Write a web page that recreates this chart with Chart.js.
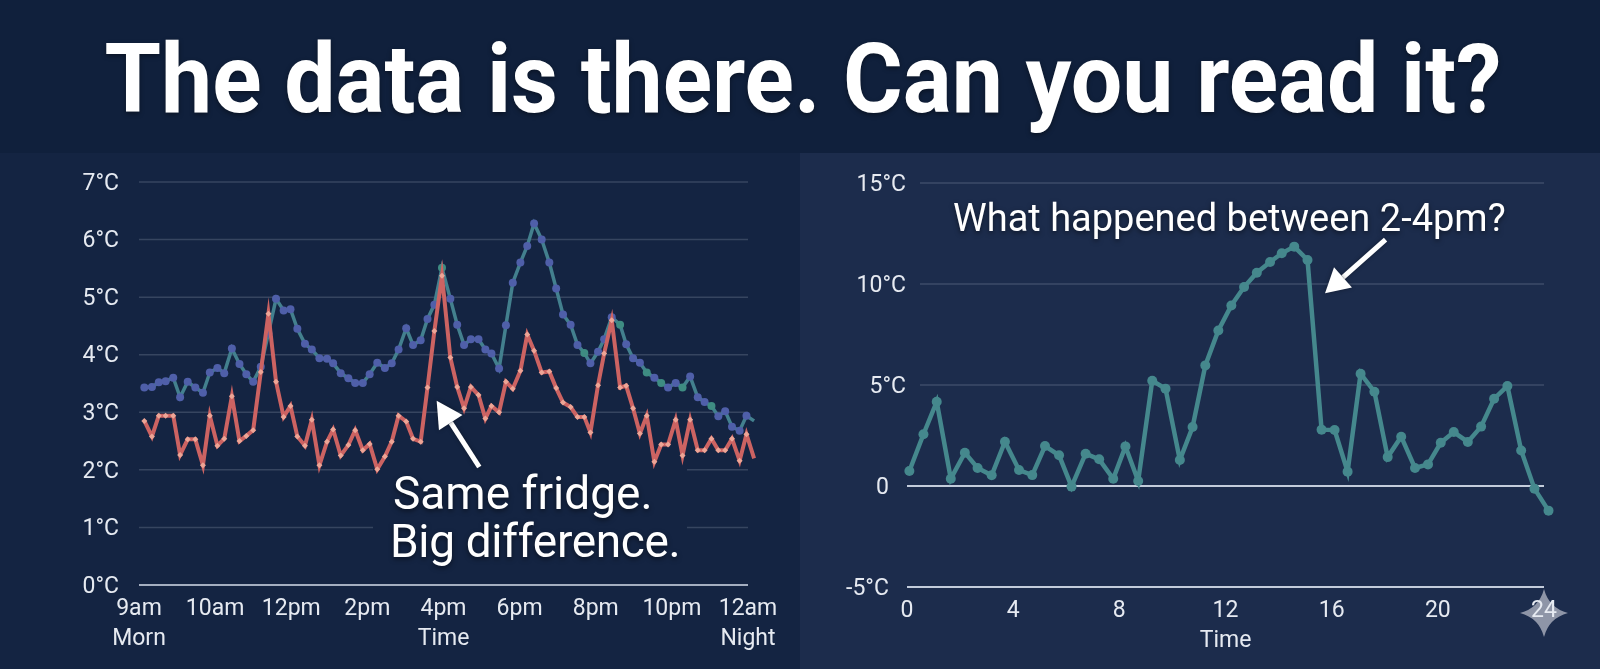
<!DOCTYPE html>
<html>
<head>
<meta charset="utf-8">
<title>Fridge temperatures</title>
<script src="https://cdn.jsdelivr.net/npm/chart.js@4"></script>
<style>
  html, body { margin: 0; padding: 0; background: #142442; }
  body { position: relative; width: 1600px; height: 669px; overflow: hidden; font-family: Roboto, sans-serif; }
  #banner { position: absolute; left: 0; top: 0; width: 1600px; height: 153px; background: #10203c; }
  #banner h1 { margin: 0; width: 1606px; text-align: center; color: #fff; font: 700 96px/158px Roboto, sans-serif; transform: scaleX(0.951); transform-origin: 803px 0; text-shadow: 0 2px 5px rgba(0,0,0,.4); white-space: nowrap; }
  #leftPanel, #rightPanel { position: absolute; top: 153px; width: 800px; height: 516px; }
  #leftPanel { left: 0; background: #142442; }
  #rightPanel { left: 800px; background: #1c2c4c; }
  .note { position: absolute; color: #fff; white-space: nowrap; text-shadow: 0 2px 5px rgba(0,0,0,.5); }
</style>
</head>
<body>
<div id="banner"><h1>The data is there. Can you read it?</h1></div>
<div id="leftPanel"><canvas id="fridgeChart" width="800" height="516"></canvas></div>
<div id="rightPanel"><canvas id="freezerChart" width="800" height="516"></canvas></div>
<div class="note" style="left:393px;top:467px;font-size:46px;line-height:52px">Same fridge.</div>
<div class="note" style="left:390px;top:515px;font-size:46px;line-height:52px;letter-spacing:-0.35px">Big difference.</div>
<div class="note" style="left:953px;top:195px;font-size:38px;line-height:46px">What happened between 2-4pm?</div>
<script>
const fridgeTickLabels = ["9am", "10am", "12pm", "2pm", "4pm", "6pm", "8pm", "10pm", "12am"];
const fridgeSubLabels = { 0: "Morn", 4: "Time", 8: "Night" };

// sample positions along the axis, 1 unit = one labelled tick
const fridgeTimes = [
  0.07, 0.17, 0.26, 0.35, 0.45, 0.54, 0.64, 0.74, 0.84, 0.93,
  1.03, 1.12, 1.22, 1.32, 1.41, 1.50, 1.60, 1.70, 1.80, 1.90,
  1.99, 2.08, 2.18, 2.27, 2.37, 2.47, 2.55, 2.65, 2.75, 2.84,
  2.94, 3.03, 3.13, 3.23, 3.32, 3.41, 3.51, 3.60, 3.70, 3.79,
  3.88, 3.98, 4.09, 4.18, 4.27, 4.36, 4.46, 4.55, 4.63, 4.73,
  4.82, 4.91, 5.01, 5.10, 5.19, 5.29, 5.39, 5.48, 5.57, 5.67,
  5.76, 5.85, 5.93, 6.03, 6.11, 6.21, 6.32, 6.40, 6.49, 6.58,
  6.67, 6.77, 6.86, 6.95, 7.05, 7.14, 7.24, 7.34, 7.43, 7.52,
  7.61, 7.70, 7.79, 7.89, 7.98, 8.08
];

const sensorA = [
  3.43, 3.44, 3.52, 3.54, 3.60, 3.26, 3.53, 3.43, 3.34, 3.69,
  3.77, 3.68, 4.11, 3.84, 3.66, 3.53, 3.79, 4.37, 4.97, 4.77,
  4.79, 4.45, 4.19, 4.09, 3.94, 3.93, 3.85, 3.68, 3.59, 3.51,
  3.51, 3.66, 3.86, 3.77, 3.85, 4.09, 4.46, 4.17, 4.25, 4.62,
  4.87, 5.51, 4.97, 4.52, 4.17, 4.27, 4.27, 4.09, 4.02, 3.76,
  4.51, 5.25, 5.60, 5.89, 6.28, 6.00, 5.60, 5.15, 4.70, 4.52,
  4.17, 4.03, 3.85, 4.05, 4.27, 4.65, 4.52, 4.18, 3.94, 3.86,
  3.69, 3.60, 3.51, 3.43, 3.51, 3.43, 3.62, 3.26, 3.18, 3.11,
  2.93, 3.02, 2.75, 2.68, 2.94, 2.85
];
const sensorATealPoints = [41, 61, 66, 70, 72, 75, 79, 85];

const sensorB = [
  2.85, 2.58, 2.94, 2.94, 2.94, 2.26, 2.53, 2.53, 2.08, 2.94,
  2.42, 2.54, 3.28, 2.50, 2.59, 2.69, 3.70, 4.71, 3.53, 2.92,
  3.11, 2.58, 2.42, 2.87, 2.08, 2.49, 2.70, 2.25, 2.43, 2.69,
  2.34, 2.45, 2.01, 2.23, 2.49, 2.94, 2.84, 2.54, 2.49, 3.43,
  4.41, 5.37, 3.95, 3.44, 3.07, 3.44, 3.30, 2.89, 3.11, 3.00,
  3.53, 3.41, 3.72, 4.35, 4.07, 3.69, 3.71, 3.42, 3.17, 3.09,
  2.92, 2.92, 2.65, 3.47, 4.02, 4.60, 3.43, 3.46, 3.07, 2.63,
  2.94, 2.14, 2.44, 2.44, 2.87, 2.25, 2.87, 2.34, 2.34, 2.54,
  2.34, 2.34, 2.54, 2.16, 2.62, 2.20
];

const dayHours = [
  0.09, 0.62, 1.12, 1.65, 2.18, 2.66, 3.19, 3.69, 4.22, 4.72,
  5.20, 5.73, 6.20, 6.73, 7.24, 7.77, 8.23, 8.71, 9.24, 9.74,
  10.28, 10.76, 11.24, 11.73, 12.22, 12.70, 13.18, 13.68, 14.12, 14.59,
  15.09, 15.62, 16.11, 16.60, 17.09, 17.61, 18.11, 18.62, 19.14, 19.63,
  20.11, 20.60, 21.13, 21.63, 22.12, 22.62, 23.14, 23.64, 24.17
];
const dayTemps = [
  0.74, 2.56, 4.17, 0.36, 1.65, 0.89, 0.53, 2.19, 0.79, 0.54,
  1.98, 1.52, -0.03, 1.60, 1.32, 0.36, 1.96, 0.25, 5.21, 4.82,
  1.29, 2.92, 5.97, 7.70, 8.94, 9.85, 10.56, 11.09, 11.52, 11.85,
  11.19, 2.79, 2.77, 0.71, 5.56, 4.67, 1.43, 2.44, 0.89, 1.07,
  2.14, 2.67, 2.18, 2.94, 4.32, 4.95, 1.76, -0.13, -1.22
];

const TICK_COLOR = "#e6eaf1";
const TICK_FONT = { family: "Roboto", size: 23, lineHeight: 1.3 };

function toPoints(xs, ys) {
  return ys.map((y, i) => ({ x: xs[i], y: y }));
}

// fixed axis band, and no extra room reserved for the outer labels
function fixBand(scale, prop, size) {
  scale[prop] = size;
  scale.paddingTop = scale.paddingBottom = scale.paddingLeft = scale.paddingRight = 0;
}

// horizontal rules, with room left for the text sitting over them
const gridPlugin = {
  id: "ruledGrid",
  beforeDatasetsDraw(chart, args, opts) {
    const { ctx, scales: { y }, chartArea } = chart;
    ctx.save();
    y.ticks.forEach(t => {
      const heavy = opts.heavy.includes(t.value);
      const py = y.getPixelForValue(t.value);
      const x0 = chartArea.left + (heavy ? 0 : opts.inset);
      ctx.strokeStyle = heavy ? opts.heavyColor : "rgba(200,212,230,0.19)";
      ctx.lineWidth = heavy ? 2 : 1.5;
      ctx.beginPath();
      const gap = opts.gap && opts.gap.values.includes(t.value) ? opts.gap : null;
      if (gap) {
        ctx.moveTo(x0, py);
        ctx.lineTo(gap.from, py);
        ctx.moveTo(gap.to, py);
      } else {
        ctx.moveTo(x0, py);
      }
      ctx.lineTo(chartArea.right, py);
      ctx.stroke();
    });
    ctx.restore();
  }
};

// drop the y labels a touch so they sit level with their rules
const labelNudgePlugin = {
  id: "labelNudge",
  afterUpdate(chart) {
    chart.scales.y.getLabelItems().forEach(item => { item.options.translation[1] += 2; });
  }
};

// white callout arrow, ends given in data values
const arrowPlugin = {
  id: "calloutArrow",
  afterDatasetsDraw(chart, args, opts) {
    const { ctx, scales: { x, y } } = chart;
    const tipX = x.getPixelForValue(opts.tip[0]), tipY = y.getPixelForValue(opts.tip[1]);
    const tailX = x.getPixelForValue(opts.tail[0]), tailY = y.getPixelForValue(opts.tail[1]);
    const a = Math.atan2(tipY - tailY, tipX - tailX);
    const bx = tipX - Math.cos(a) * opts.headLength, by = tipY - Math.sin(a) * opts.headLength;
    const nx = -Math.sin(a) * opts.headHalf, ny = Math.cos(a) * opts.headHalf;
    ctx.save();
    ctx.shadowColor = "rgba(0,0,0,0.35)";
    ctx.shadowBlur = 4;
    ctx.strokeStyle = "#fff";
    ctx.fillStyle = "#fff";
    ctx.lineWidth = 5;
    ctx.beginPath();
    ctx.moveTo(tailX, tailY);
    ctx.lineTo(bx, by);
    ctx.stroke();
    ctx.beginPath();
    ctx.moveTo(tipX, tipY);
    ctx.lineTo(bx + nx, by + ny);
    ctx.lineTo(bx - nx, by - ny);
    ctx.closePath();
    ctx.fill();
    ctx.restore();
  }
};

// four point star in the corner, under the last tick label
const starPlugin = {
  id: "cornerStar",
  beforeDraw(chart) {
    const { ctx, scales: { x } } = chart;
    const cx = x.getPixelForValue(24), cy = 460, r = 24, k = 5;
    ctx.save();
    ctx.fillStyle = "#8e95a7";
    ctx.beginPath();
    ctx.moveTo(cx, cy - r);
    ctx.quadraticCurveTo(cx + k, cy - k, cx + r, cy);
    ctx.quadraticCurveTo(cx + k, cy + k, cx, cy + r);
    ctx.quadraticCurveTo(cx - k, cy + k, cx - r, cy);
    ctx.quadraticCurveTo(cx - k, cy - k, cx, cy - r);
    ctx.fill();
    ctx.restore();
  }
};

new Chart(document.getElementById("fridgeChart"), {
  type: "line",
  plugins: [gridPlugin, labelNudgePlugin, arrowPlugin],
  data: {
    datasets: [
      {
        label: "Sensor B",
        data: toPoints(fridgeTimes, sensorB),
        borderColor: "#cc6362",
        borderWidth: 4,
        pointStyle: "rectRot",
        pointRadius: 3,
        pointBackgroundColor: "#eda596",
        pointBorderWidth: 0,
        tension: 0,
        clip: false,
        order: 1
      },
      {
        label: "Sensor A",
        data: toPoints(fridgeTimes, sensorA),
        borderColor: "#43808e",
        borderWidth: 3.5,
        pointRadius: 4,
        pointBackgroundColor: ctx => sensorATealPoints.includes(ctx.dataIndex) ? "#3e8c82" : "#4f5fa9",
        pointBorderWidth: 0,
        tension: 0,
        clip: false,
        order: 2
      }
    ]
  },
  options: {
    responsive: false,
    animation: false,
    layout: { padding: { left: 0, right: 52, top: 29, bottom: 0 } },
    plugins: {
      legend: { display: false },
      tooltip: { enabled: false },
      ruledGrid: { heavy: [0], heavyColor: "#a4aec0", inset: 0, gap: { values: [1, 2], from: 373, to: 687 } },
      calloutArrow: { tip: [3.91, 3.2], tail: [4.47, 2.05], headLength: 26, headHalf: 14 }
    },
    scales: {
      x: {
        type: "linear",
        min: 0,
        max: 8,
        afterFit: s => fixBand(s, "height", 84),
        grid: { display: false, drawTicks: false },
        border: { display: false },
        ticks: {
          stepSize: 1,
          autoSkip: false,
          maxRotation: 0,
          padding: 9,
          color: TICK_COLOR,
          font: TICK_FONT,
          callback: v => fridgeSubLabels[v] ? [fridgeTickLabels[v], fridgeSubLabels[v]] : fridgeTickLabels[v]
        }
      },
      y: {
        min: 0,
        max: 7,
        afterFit: s => fixBand(s, "width", 139),
        grid: { display: false, drawTicks: false },
        border: { display: false },
        ticks: {
          stepSize: 1,
          padding: 20,
          color: TICK_COLOR,
          font: TICK_FONT,
          callback: v => v + "°C"
        }
      }
    }
  }
});

new Chart(document.getElementById("freezerChart"), {
  type: "line",
  plugins: [starPlugin, gridPlugin, labelNudgePlugin, arrowPlugin],
  data: {
    datasets: [{
      label: "Temperature",
      data: toPoints(dayHours, dayTemps),
      borderColor: "#45888d",
      borderWidth: 4.5,
      pointRadius: 5,
      pointBackgroundColor: "#45888d",
      pointBorderWidth: 0,
      tension: 0,
      clip: false
    }]
  },
  options: {
    responsive: false,
    animation: false,
    layout: { padding: { left: 0, right: 56, top: 30, bottom: 0 } },
    plugins: {
      legend: { display: false },
      tooltip: { enabled: false },
      ruledGrid: { heavy: [0, -5], heavyColor: "#c3ccdb", inset: 13 },
      calloutArrow: { tip: [15.75, 9.54], tail: [18.03, 12.2], headLength: 24, headHalf: 13.5 }
    },
    scales: {
      x: {
        type: "linear",
        min: 0,
        max: 24,
        afterFit: s => fixBand(s, "height", 82),
        grid: { display: false, drawTicks: false },
        border: { display: false },
        ticks: {
          stepSize: 4,
          autoSkip: false,
          maxRotation: 0,
          padding: 9,
          color: TICK_COLOR,
          font: TICK_FONT,
          callback: v => v === 12 ? ["12", "Time"] : String(v)
        }
      },
      y: {
        min: -5,
        max: 15,
        afterFit: s => fixBand(s, "width", 107),
        grid: { display: false, drawTicks: false },
        border: { display: false },
        ticks: {
          stepSize: 5,
          padding: 1,
          color: TICK_COLOR,
          font: TICK_FONT,
          // the two lower labels sit a little further from the axis
          callback: v => v === 0 ? "0\u00a0\u00a0\u00a0" : v === -5 ? "-5°C\u00a0\u00a0\u00a0" : v + "°C"
        }
      }
    }
  }
});
</script>
</body>
</html>
